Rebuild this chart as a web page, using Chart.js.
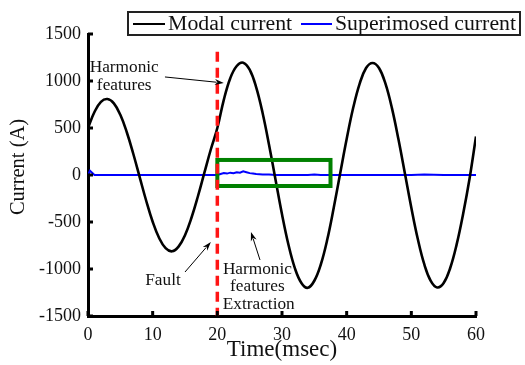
<!DOCTYPE html>
<html>
<head>
<meta charset="utf-8">
<script src="https://cdn.jsdelivr.net/npm/chart.js@4.4.0/dist/chart.umd.min.js"></script>
<style>
  html, body { margin: 0; padding: 0; background: #fff; }
</style>
</head>
<body>
<canvas id="currentChart" width="525" height="365"></canvas>
<script>
// Datos (ms, A)
const modalTime = [0, 1, 2, 3, 4, 5, 6, 7, 8, 9, 10, 11, 12, 13, 14, 15, 16, 17, 18, 19, 20,
  21, 22, 23, 24, 25, 26, 27, 28, 29, 30, 31, 32, 33, 34, 35, 36, 37, 38, 39, 40,
  41, 42, 43, 44, 45, 46, 47, 48, 49, 50, 51, 52, 53, 54, 55, 56, 57, 58, 59, 60];
const modalCurrent = [500, 670, 778, 808, 762, 640, 455, 226, -25, -274, -497,
  -670, -778, -812, -762, -640, -455, -226, 25, 274, 500,
  800, 1030, 1160, 1195, 1120, 935, 660, 320, -50, -418,
  -742, -993, -1148, -1200, -1125, -952, -687, -349, 19, 383,
  712, 970, 1138, 1192, 1138, 971, 711, 382, 19, -348,
  -681, -949, -1126, -1196, -1150, -992, -741, -417, -40, 410];

const superTime = [0, 0.3, 1, 5, 10, 15, 20, 20.5, 21, 21.5, 22, 22.5, 23, 23.5, 24, 24.5,
  25, 25.5, 26, 27, 28, 29, 30, 32, 34, 35, 36, 37, 40, 45, 50, 52, 55, 60];
const superCurrent = [0, 45, 0, 0, 0, 0, 0, 10, 20, 15, 25, 20, 30, 25, 40, 30,
  20, 15, 10, 5, 5, 0, 0, 0, 0, 5, 0, 0, 0, 0, 0, 4, 0, 0];

const xTicks = [0, 10, 20, 30, 40, 50, 60];
const yTicks = [-1500, -1000, -500, 0, 500, 1000, 1500];

const seriesNames = ['Modal current', 'Superimosed current'];

// Anotaciones en coordenadas de datos
const faultTime = 20;
const faultTop = 1310;
const boxX = [20, 37.5];
const boxY = [-117, 160];

const serif = "'Liberation Serif', 'Times New Roman', serif";

function toPoints(xs, ys) {
  return xs.map((x, i) => ({ x: x, y: ys[i] }));
}

function drawText(ctx, text, x, y, size, sx, rot) {
  ctx.save();
  ctx.translate(x, y);
  if (rot) ctx.rotate(rot);
  ctx.scale(sx, 1);
  ctx.font = size + 'px ' + serif;
  ctx.textAlign = 'center';
  ctx.textBaseline = 'middle';
  ctx.fillStyle = '#111';
  ctx.fillText(text, 0, 0);
  ctx.restore();
}

function drawArrow(ctx, x0, y0, x1, y1) {
  const ang = Math.atan2(y1 - y0, x1 - x0);
  const len = 9, half = 3;
  ctx.save();
  ctx.strokeStyle = '#000';
  ctx.fillStyle = '#000';
  ctx.lineWidth = 1;
  ctx.beginPath();
  ctx.moveTo(x0, y0);
  ctx.lineTo(x1 - Math.cos(ang) * len * 0.8, y1 - Math.sin(ang) * len * 0.8);
  ctx.stroke();
  ctx.beginPath();
  ctx.moveTo(x1, y1);
  ctx.lineTo(x1 - Math.cos(ang) * len - Math.sin(ang) * half, y1 - Math.sin(ang) * len + Math.cos(ang) * half);
  ctx.lineTo(x1 - Math.cos(ang) * len * 0.7, y1 - Math.sin(ang) * len * 0.7);
  ctx.lineTo(x1 - Math.cos(ang) * len + Math.sin(ang) * half, y1 - Math.sin(ang) * len - Math.cos(ang) * half);
  ctx.closePath();
  ctx.fill();
  ctx.restore();
}

const decorPlugin = {
  id: 'decor',
  afterDatasetsDraw(chart) {
    const ctx = chart.ctx;
    const xs = chart.scales.x, ys = chart.scales.y;
    // Caja verde
    ctx.save();
    ctx.strokeStyle = 'rgb(0,128,0)';
    ctx.lineWidth = 4;
    const bx0 = xs.getPixelForValue(boxX[0]), bx1 = xs.getPixelForValue(boxX[1]);
    const by0 = ys.getPixelForValue(boxY[1]), by1 = ys.getPixelForValue(boxY[0]);
    ctx.strokeRect(bx0, by0, bx1 - bx0, by1 - by0);
    // Línea de falla
    ctx.strokeStyle = '#ff1414';
    ctx.lineWidth = 3.5;
    ctx.setLineDash([10, 6]);
    ctx.beginPath();
    ctx.moveTo(xs.getPixelForValue(faultTime), ys.getPixelForValue(faultTop));
    ctx.lineTo(xs.getPixelForValue(faultTime), ys.getPixelForValue(-1500));
    ctx.stroke();
    ctx.restore();
  },
  afterDraw(chart) {
    const ctx = chart.ctx;
    const xs = chart.scales.x, ys = chart.scales.y;
    const area = chart.chartArea;
    const px = v => xs.getPixelForValue(v);
    const py = v => ys.getPixelForValue(v);

    // Marcas de eje hacia adentro
    ctx.save();
    ctx.strokeStyle = '#000';
    ctx.lineWidth = 3;
    yTicks.forEach(v => {
      ctx.beginPath();
      ctx.moveTo(area.left, py(v));
      ctx.lineTo(area.left + 5, py(v));
      ctx.stroke();
    });
    xTicks.forEach(v => {
      ctx.beginPath();
      ctx.moveTo(px(v), area.bottom);
      ctx.lineTo(px(v), area.bottom - 5);
      ctx.stroke();
    });
    ctx.restore();

    // Título del eje Y
    drawText(ctx, 'Current (A)', 19, 167, 20.5, 1, -Math.PI / 2);

    // Textos y flechas
    drawText(ctx, 'Harmonic', px(5.6), py(1140), 16, 1.08);
    drawText(ctx, 'features', px(5.6), py(950), 16, 1.08);
    drawArrow(ctx, px(11.9), py(1043), px(21.0), py(979));

    drawText(ctx, 'Fault', px(11.6), py(-1128), 16, 1.08);
    drawArrow(ctx, px(15.0), py(-1032), px(19.0), py(-713));

    drawText(ctx, 'Harmonic', px(26.2), py(-1011), 16, 1.08);
    drawText(ctx, 'features', px(26.2), py(-1191), 16, 1.08);
    drawText(ctx, 'Extraction', px(26.4), py(-1383), 16, 1.08);
    drawArrow(ctx, px(26.6), py(-904), px(25.2), py(-606));

    // Leyenda
    ctx.save();
    ctx.fillStyle = '#fff';
    ctx.fillRect(128, 12, 392, 23);
    ctx.strokeStyle = '#222';
    ctx.lineWidth = 2;
    ctx.strokeRect(128, 12, 392, 23);
    ctx.lineWidth = 2;
    ctx.strokeStyle = '#000';
    ctx.beginPath(); ctx.moveTo(133, 24); ctx.lineTo(165, 24); ctx.stroke();
    ctx.strokeStyle = '#0000ff';
    ctx.beginPath(); ctx.moveTo(301, 24); ctx.lineTo(332, 24); ctx.stroke();
    ctx.restore();
    [[seriesNames[0], 168], [seriesNames[1], 335]].forEach(([txt, x0]) => {
      ctx.save();
      ctx.font = '20px ' + serif;
      ctx.textBaseline = 'middle';
      ctx.fillStyle = '#111';
      ctx.translate(x0, 24.5);
      ctx.scale(1.09, 1);
      ctx.fillText(txt, 0, 0);
      ctx.restore();
    });
  }
};

const ctx = document.getElementById('currentChart').getContext('2d');
const currentChart = new Chart(ctx, {
  type: 'line',
  data: {
    datasets: [{
      label: seriesNames[0],
      data: toPoints(modalTime, modalCurrent),
      borderColor: '#000',
      borderWidth: 2.6,
      pointRadius: 0,
      tension: 0.4
    }, {
      label: seriesNames[1],
      data: toPoints(superTime, superCurrent),
      borderColor: '#0000ff',
      borderWidth: 2,
      pointRadius: 0,
      tension: 0
    }]
  },
  options: {
    responsive: false,
    animation: false,
    layout: { padding: { top: 34, right: 49, left: 0, bottom: 0 } },
    plugins: {
      legend: { display: false },
      tooltip: { enabled: false }
    },
    scales: {
      x: {
        type: 'linear',
        min: 0,
        max: 60,
        afterBuildTicks: s => { s.ticks = xTicks.map(v => ({ value: v })); },
        afterFit: s => { s.height = 49; },
        grid: { display: true, drawOnChartArea: false, drawTicks: false },
        border: { display: true, width: 3, color: '#000' },
        ticks: {
          color: '#111',
          padding: 8,
          font: { family: serif, size: 18 },
          callback: v => String(v)
        },
        title: {
          display: true,
          text: 'Time(msec)',
          color: '#111',
          font: { family: serif, size: 23 },
          padding: { top: 0, bottom: 1 }
        }
      },
      y: {
        min: -1500,
        max: 1500,
        afterBuildTicks: s => { s.ticks = yTicks.map(v => ({ value: v })); },
        afterFit: s => { s.width = 88; },
        grid: { display: true, drawOnChartArea: false, drawTicks: false },
        border: { display: true, width: 3, color: '#000' },
        ticks: {
          color: '#111',
          padding: 7,
          font: { family: serif, size: 18 },
          callback: v => String(v)
        },
        title: { display: false }
      }
    }
  },
  plugins: [decorPlugin]
});
</script>
</body>
</html>
